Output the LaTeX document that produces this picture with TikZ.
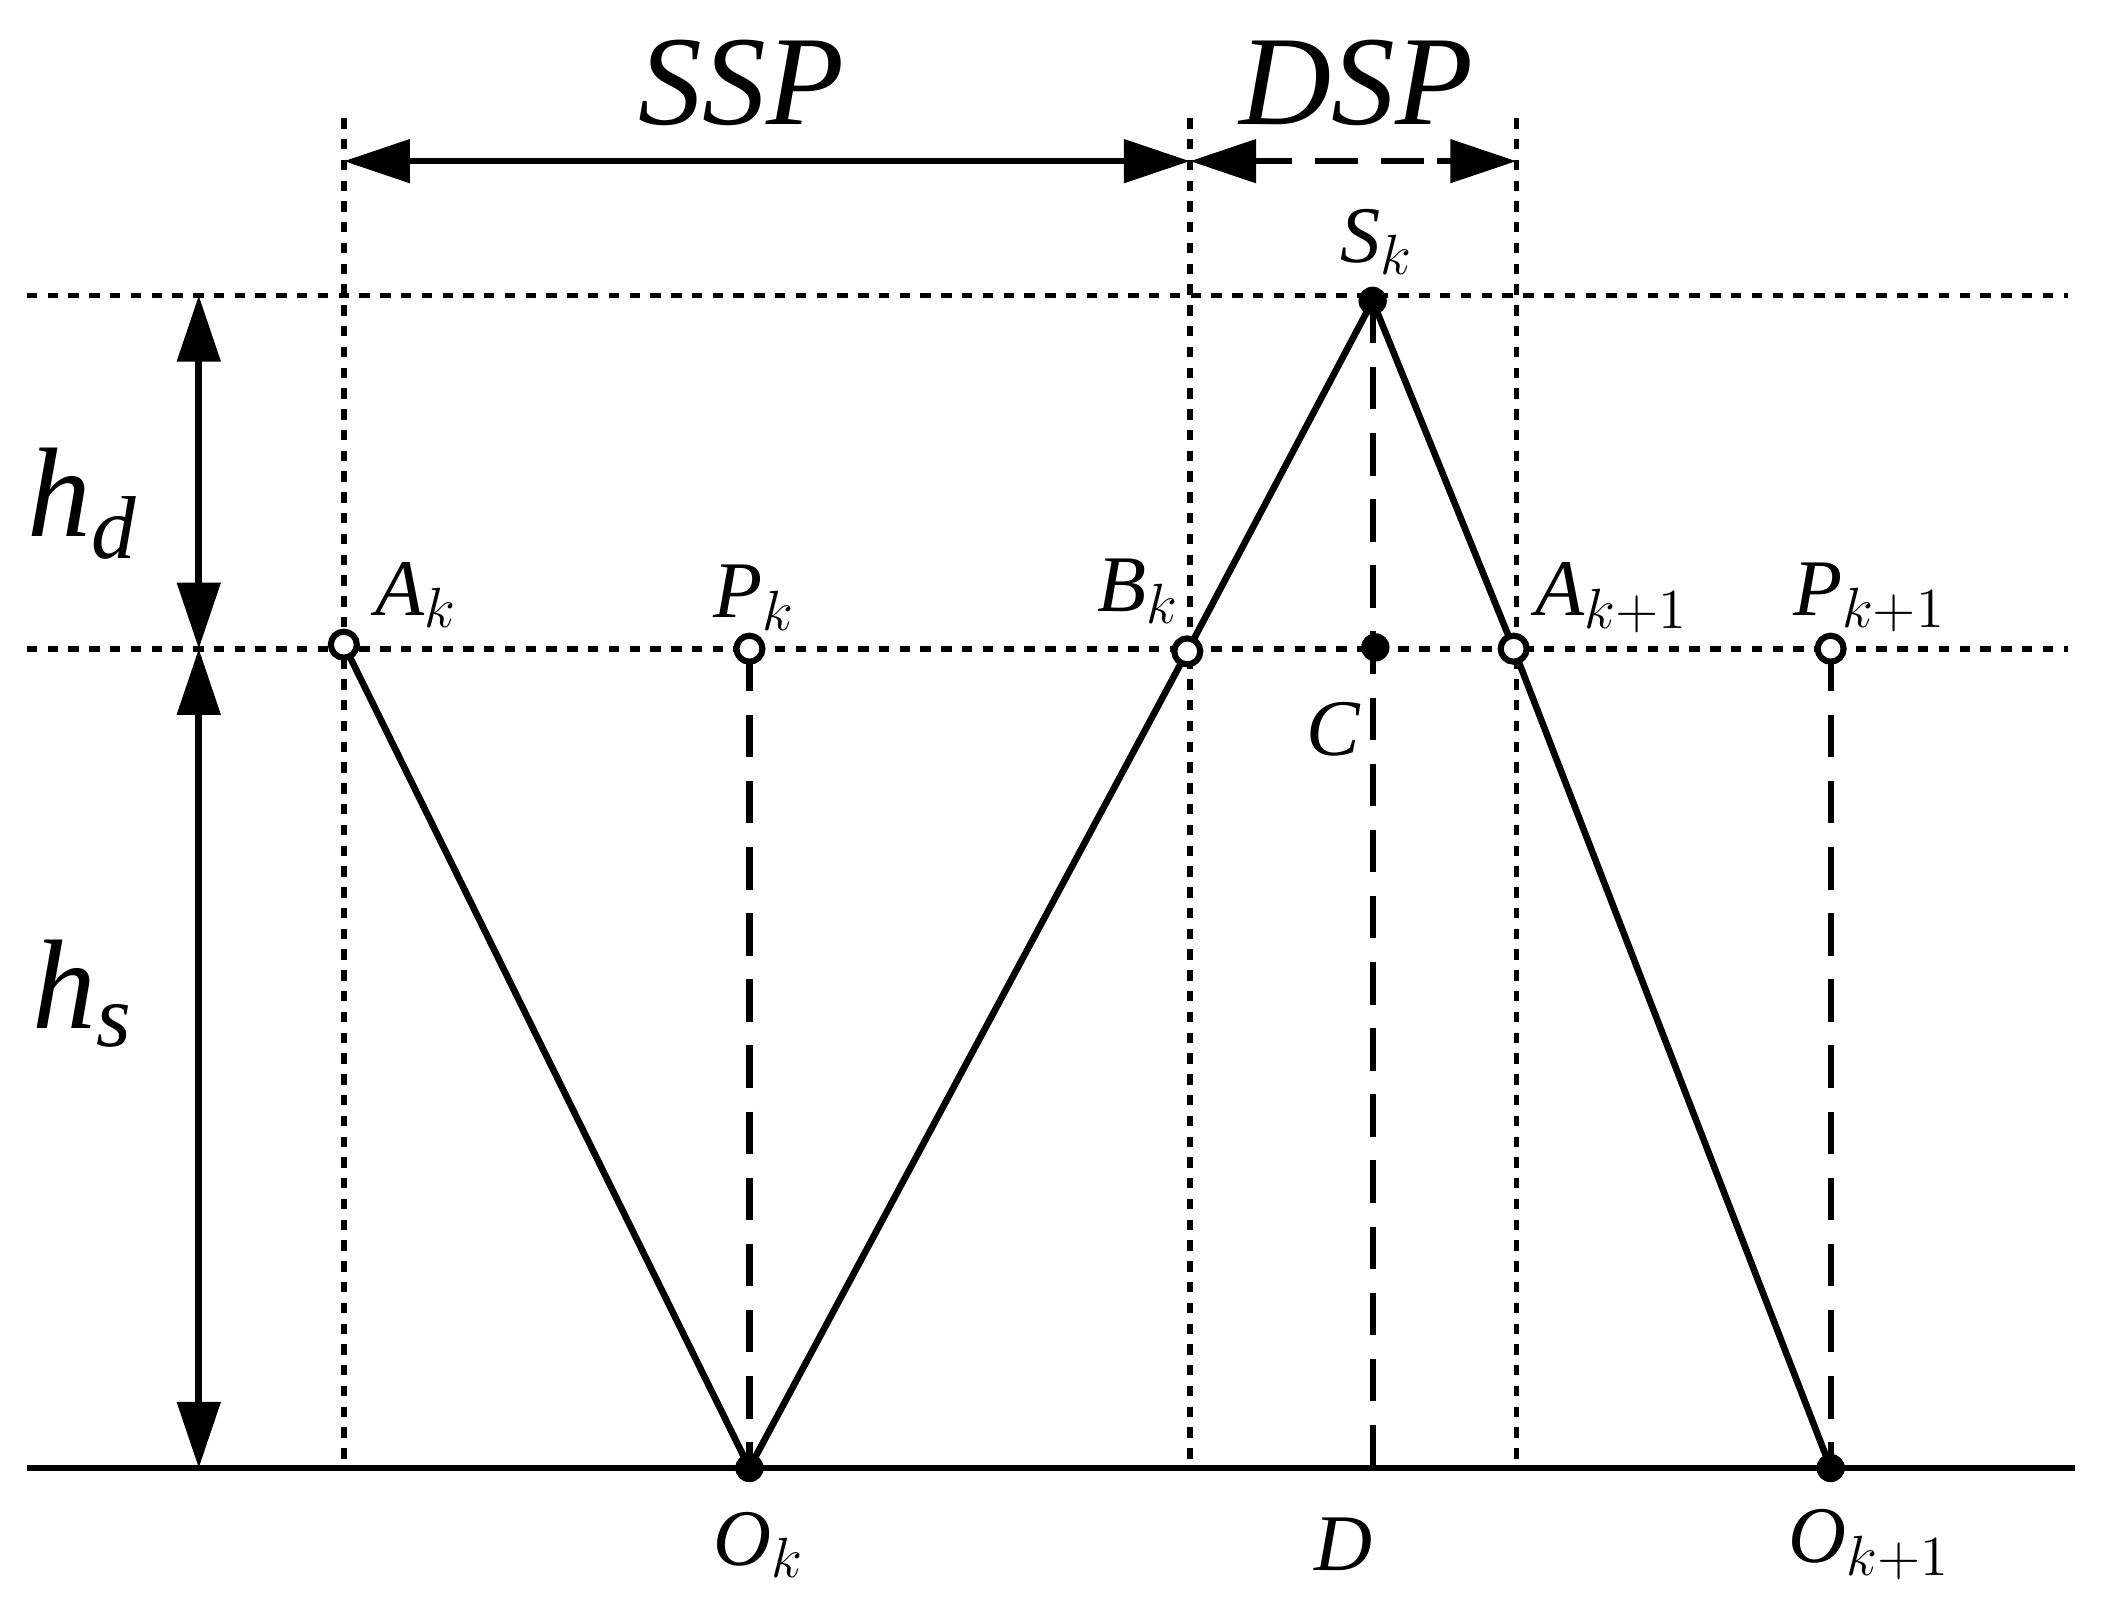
\documentclass[tikz,border=0pt]{standalone}
\usepackage{fontspec}
\setmainfont{Liberation Serif}
\usetikzlibrary{arrows.meta}
\begin{document}
\begin{tikzpicture}[x=0.01cm,y=-0.01cm,
 dotl/.style={line width=1.2pt,dash pattern=on 2.2pt off 2.2pt},
 dashl/.style={line width=1.3pt,dash pattern=on 9pt off 5pt},
 sol/.style={line width=1.4pt},
 tip/.style={-{Triangle[length=14pt,width=9pt]}},
 ring/.style={circle,draw,line width=1.3pt,fill=white,inner sep=0pt,minimum size=5.5pt,path picture={\fill (path picture bounding box.center) circle (1pt);}},
 dotn/.style={circle,fill,inner sep=0pt,minimum size=6pt},
 lab/.style={font=\fontsize{17}{20}\selectfont\itshape},
 big/.style={font=\fontsize{27}{30}\selectfont\itshape}]
\useasboundingbox (0,0) rectangle (1568,1198);
% reference lines
\draw[dotl] (20,220) -- (1540,220);
\draw[dotl] (20,483) -- (1540,483);
\draw[dotl] (256,88) -- (256,1093);
\draw[dotl] (886,88) -- (886,1093);
\draw[dotl] (1129,88) -- (1129,1093);
\draw[sol] (20,1093) -- (1545,1093);
% points
\coordinate (Ak) at (256,480);
\coordinate (Pk) at (558,483);
\coordinate (Bk) at (884,485);
\coordinate (C) at (1024,482);
\coordinate (Ak1) at (1127,483);
\coordinate (Pk1) at (1363,483);
\coordinate (Sk) at (1022,224);
\coordinate (Ok) at (558,1093);
\coordinate (Ok1) at (1363,1093);
\coordinate (D) at (1022,1093);
% dashed verticals
\draw[dashl] (Pk) -- (Ok);
\draw[dashl] (Sk) -- (D);
\draw[dashl] (Pk1) -- (Ok1);
% legs
\draw[sol] (Ak) -- (Ok) -- (Bk) -- (Sk) -- (Ak1) -- (Ok1);
% markers
\node[ring] (nAk) at (Ak) {};
\node[ring] (nPk) at (Pk) {};
\node[ring] (nBk) at (Bk) {};
\node[ring] (nAk1) at (Ak1) {};
\node[ring] (nPk1) at (Pk1) {};
\node[dotn] (nC) at (C) {};
\node[dotn] (nSk) at (Sk) {};
\node[dotn] (nOk) at (Ok) {};
\node[dotn] (nOk1) at (Ok1) {};
% dimension arrows
\coordinate (s1) at (256,120); \coordinate (s2) at (886,120); \coordinate (s3) at (1129,120);
\draw[sol,tip] (430,120) -- (s1);
\draw[sol,tip] (700,120) -- (s2);
\draw[sol] (430,120) -- (700,120);
\draw[line width=1.4pt,dash pattern=on 9pt off 5pt] (930,120) -- (1090,120);
\draw[sol,tip] (950,120) -- (s2);
\draw[sol,tip] (1070,120) -- (s3);
\coordinate (h1) at (148,220); \coordinate (h2) at (148,483); \coordinate (h3) at (148,1093);
\draw[sol,tip] (148,350) -- (h1);
\draw[sol,tip] (148,350) -- (h2);
\draw[sol,tip] (148,780) -- (h2);
\draw[sol,tip] (148,780) -- (h3);
% labels
\node[big] at (552,62) {SSP};
\node[big] at (1010,62) {DSP};
\node[big] at (62,375) {h$_{\mathit d}$};
\node[big] at (62,740) {h$_{\mathit s}$};
\node[lab] at (310,443) {A$_k$};
\node[lab] at (562,445) {P$_k$};
\node[lab] at (848,440) {B$_k$};
\node[lab] at (1025,180) {S$_k$};
\node[lab] at (1200,445) {A$_{k+1}$};
\node[lab] at (1392,445) {P$_{k+1}$};
\node[lab] at (993,543) {C};
\node[lab] at (565,1150) {O$_k$};
\node[lab] at (1000,1150) {D};
\node[lab] at (1392,1150) {O$_{k+1}$};
\end{tikzpicture}
\end{document}
